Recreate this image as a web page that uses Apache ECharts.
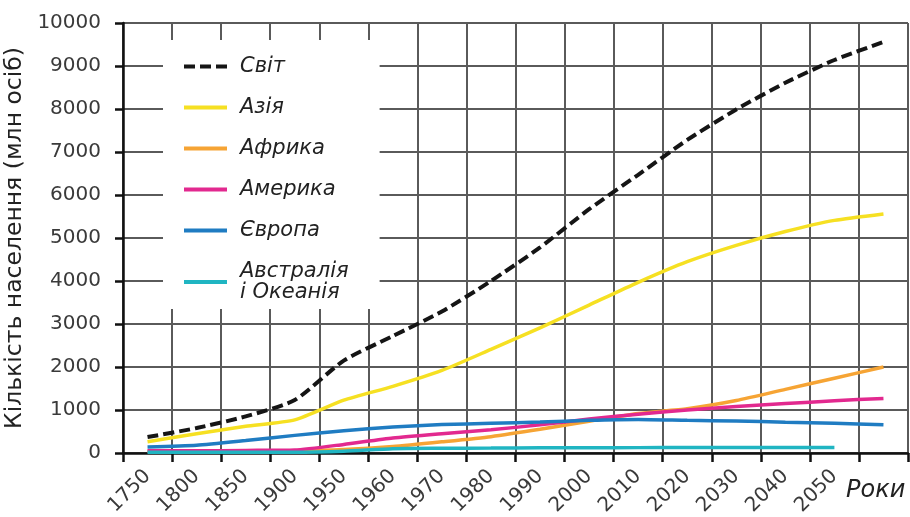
<!DOCTYPE html>
<html>
<head>
    <meta charset="utf-8">
    <title>Кількість населення</title>
    <script src="https://cdn.jsdelivr.net/npm/echarts@6.0.0/dist/echarts.min.js"></script>
    <style>
        html, body { margin: 0; padding: 0; background: #fff; }
        #chart { width: 910px; height: 517px; }
    </style>
</head>
<body>
    <div id="chart"></div>

    <script>
        // роки (остання категорія порожня — під нею підпис "Роки")
        const years = ['1750', '1800', '1850', '1900', '1950', '1960', '1970', '1980',
                       '1990', '2000', '2010', '2020', '2030', '2040', '2050', ''];

        // млн осіб
        const world     = [370, 580, 850, 1230, 2150, 2720, 3290, 4000, 4780, 5670, 6470, 7280, 7990, 8610, 9140, 9560];
        const asia      = [260, 450, 620, 770, 1230, 1550, 1920, 2410, 2910, 3440, 3970, 4450, 4830, 5150, 5410, 5560];
        const africa    = [40, 40, 45, 50, 80, 150, 260, 380, 550, 740, 920, 1030, 1220, 1480, 1740, 2000];
        const america   = [50, 50, 60, 70, 200, 350, 450, 540, 655, 790, 900, 1000, 1080, 1150, 1215, 1270];
        const europe    = [140, 180, 290, 410, 520, 605, 660, 690, 720, 760, 780, 760, 745, 715, 690, 655];
        const australia = [15, 15, 15, 15, 40, 100, 110, 115, 120, 120, 125, 130, 130, 130, 130, null];

        const yTicks = { min: 0, max: 10000, step: 1000 };

        const chart = echarts.init(document.getElementById('chart'));
        const font = '"DejaVu Sans", sans-serif';
        const gridColor = '#5a5a5a';

        function line(name, data, color, extra) {
            return Object.assign({
                name: name,
                type: 'line',
                data: data,
                symbol: 'none',
                smooth: 0.2,
                lineStyle: { color: color, width: 3.5 },
                itemStyle: { color: color }
            }, extra || {});
        }

        const option = {
            animation: false,
            grid: { left: 123, right: 2, top: 23, bottom: 64, outerBoundsMode: 'none' },
            legend: {
                orient: 'vertical',
                left: 163,
                top: 40,
                padding: [16, 31, 6, 19],
                backgroundColor: '#fff',
                itemWidth: 43,
                itemHeight: 14,
                itemGap: 20,
                itemStyle: { opacity: 0 },
                lineStyle: { width: 4 },
                textStyle: {
                    fontFamily: font,
                    fontStyle: 'italic',
                    fontSize: 21,
                    lineHeight: 21,
                    color: '#222',
                    padding: [0, 0, 0, 8]
                },
                formatter: n => n === 'Австралія і Океанія' ? 'Австралія\nі Океанія' : n
            },
            xAxis: {
                type: 'category',
                data: years,
                boundaryGap: true,
                name: 'Роки',
                nameLocation: 'end',
                nameGap: -62,
                nameTextStyle: {
                    fontFamily: font,
                    fontStyle: 'italic',
                    fontSize: 24,
                    color: '#222',
                    verticalAlign: 'top',
                    padding: [26, 0, 0, 0]
                },
                axisLine: { lineStyle: { color: '#111', width: 2.5 } },
                axisTick: { show: true, length: 9, lineStyle: { color: '#111', width: 2.5 } },
                axisLabel: {
                    interval: 0,
                    rotate: 45,
                    margin: 20,
                    fontFamily: font,
                    fontSize: 20,
                    color: '#3a3a3a'
                },
                splitLine: { show: true, interval: 0, lineStyle: { color: gridColor, width: 2 } }
            },
            yAxis: {
                type: 'value',
                min: yTicks.min,
                max: yTicks.max,
                interval: yTicks.step,
                name: 'Кількість населення (млн осіб)',
                nameLocation: 'middle',
                nameGap: 96,
                nameTextStyle: { fontFamily: font, fontSize: 23.5, color: '#222' },
                axisLine: { show: true, lineStyle: { color: '#111', width: 2.5 } },
                axisTick: { show: true, length: 8, lineStyle: { color: '#111', width: 2.5 } },
                axisLabel: {
                    margin: 22,
                    fontFamily: font,
                    fontSize: 20,
                    color: '#3a3a3a',
                    formatter: v => String(v)
                },
                splitLine: { show: true, lineStyle: { color: gridColor, width: 2 } }
            },
            series: [
                line('Світ', world, '#151515', { lineStyle: { color: '#151515', width: 4, type: [11, 5] }, z: 6 }),
                line('Азія', asia, '#f6e022'),
                line('Африка', africa, '#f6a434'),
                line('Америка', america, '#e2298f'),
                line('Європа', europe, '#1f7cc2'),
                line('Австралія і Океанія', australia, '#20b5c2')
            ]
        };

        chart.setOption(option);
    </script>
</body>
</html>
